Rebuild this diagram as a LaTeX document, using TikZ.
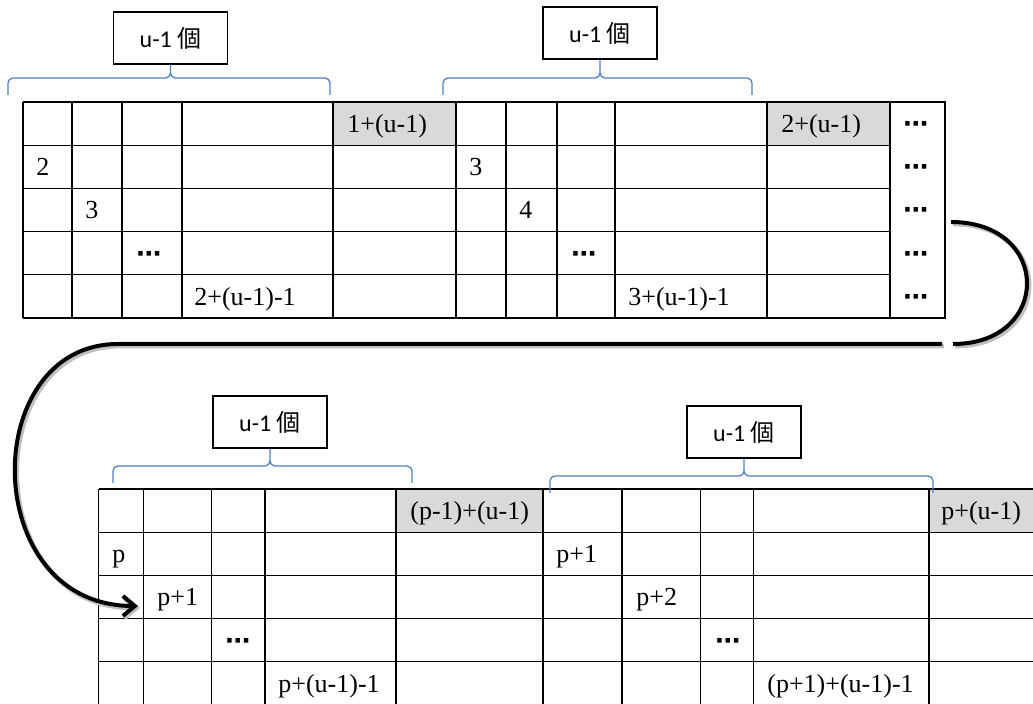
\documentclass[tikz,border=0pt]{standalone}
\usepackage{fontspec}
\setmainfont{Liberation Serif}
\newfontfamily\labelfont{Carlito}
\newfontfamily\cjkfont{Noto Sans CJK TC}
\newfontfamily\symfont{DejaVu Sans}
\usetikzlibrary{arrows.meta,positioning}
\definecolor{Brace}{HTML}{4F81BD}
\definecolor{Cell}{HTML}{D9D9D9}

\newcommand\countbrace[3]{%
  \draw[bracket] (#1) -- ++(0,-17) -| (#3.south) (#2) -- ++(0,-17) -| (#3.south);}

\begin{document}
\begin{tikzpicture}[x=0.5pt,y=-0.5pt,
  grid/.style={draw=black,line width=0.65pt},
  hilite/.style={fill=Cell},
  entry/.style={anchor=base west,inner sep=0pt,font=\fontsize{13}{15}\selectfont},
  more/.style={anchor=base west,inner sep=0pt,font=\symfont\bfseries\fontsize{12.5}{15}\selectfont},
  countbox/.style={draw=black,line width=0.65pt,fill=white,minimum width=57pt,
    minimum height=26pt,inner sep=0pt,font=\labelfont\fontsize{12}{14}\selectfont},
  bracket/.style={draw=Brace,line width=0.65pt,rounded corners=2.5pt},
  flow/.style={-{Straight Barb[length=6pt,width=10pt]},line width=2pt,
    preaction={draw=black!25,line width=2.4pt,transform canvas={shift={(1pt,-1pt)}}}}]
\useasboundingbox (0,0) rectangle (1033,704);
\clip (0,0) rectangle (1033,704);

% upper block
\fill[hilite] (333,102) rectangle (456,145.2);
\fill[hilite] (767,102) rectangle (890,145.2);
\foreach \y in {102,145.2,188.4,231.6,274.8,318}
  \draw[grid] (23,\y) -- (890,\y);
\foreach \x in {23,72,122,182,333,456,506,557,615,767,890}
  \draw[grid] (\x,102) -- (\x,318);
\draw[grid] (890,102) rectangle (945,318);

\node[entry] (sum1) at (347,132.6) {1+(u-1)};
\node[entry] (sum2) at (781,132.6) {2+(u-1)};
\node[entry] (a2) at (36,175.8) {2};
\node[entry] (a3) at (85,219) {3};
\node[more] (adots) at (136,262.2) {⋯};
\node[entry] (aend) at (194,305.4) {2+(u-1)-1};
\node[entry] (b3) at (469,175.8) {3};
\node[entry] (b4) at (519,219) {4};
\node[more] (bdots) at (571,262.2) {⋯};
\node[entry] (bend) at (628,305.4) {3+(u-1)-1};
\foreach \y [count=\i] in {132.6,175.8,219,262.2,305.4}
  \node[more] (right\i) at (903,\y) {⋯};

\node[countbox] (cnt1) at (170.5,38) {u-1 {\cjkfont 個}};
\node[countbox] (cnt2) at (600,33) {u-1 {\cjkfont 個}};
\coordinate (br1l) at (8,95);
\coordinate (br1r) at (330,95);
\coordinate (br2l) at (443,95);
\coordinate (br2r) at (752,95);
\countbrace{br1l}{br1r}{cnt1}
\countbrace{br2l}{br2r}{cnt2}

% lower block
\fill[hilite] (396,489) rectangle (543,532.2);
\fill[hilite] (929,489) rectangle (1040,532.2);
\foreach \y in {489,532.2,575.4,618.6,661.8,705}
  \draw[grid] (98.5,\y) -- (1040,\y);
\foreach \x in {98.5,143.5,211.5,265,396,543,622,700.5,753.5,929}
  \draw[grid] (\x,489) -- (\x,710);

\node[entry] (sum3) at (410,519.6) {(p-1)+(u-1)};
\node[entry] (sum4) at (941,519.6) {p+(u-1)};
\node[entry] (cp) at (112,562.8) {p};
\node[entry] (cp1) at (157,606) {p+1};
\node[more] (cdots) at (225,649.2) {⋯};
\node[entry] (cend) at (278,692.4) {p+(u-1)-1};
\node[entry] (dp1) at (556,562.8) {p+1};
\node[entry] (dp2) at (636,606) {p+2};
\node[more] (ddots) at (715,649.2) {⋯};
\node[entry] (dend) at (767,692.4) {(p+1)+(u-1)-1};

\node[countbox] (cnt3) at (270,422) {u-1 {\cjkfont 個}};
\node[countbox] (cnt4) at (744,432) {u-1 {\cjkfont 個}};
\coordinate (br3l) at (113,483);
\coordinate (br3r) at (412,483);
\coordinate (br4l) at (550,493);
\coordinate (br4r) at (933,493);
\countbrace{br3l}{br3r}{cnt3}
\countbrace{br4l}{br4r}{cnt4}

% wrap-around
\coordinate (go) at (951,222);
\coordinate (turn) at (953,344);
\coordinate (back) at (942,344);
\coordinate (wrap) at (118,344);
\coordinate (land) at (138,606);
\draw[flow] (go) .. controls (1052,222) and (1052,344) .. (turn)
  (back) -- (wrap) .. controls (-22,344) and (-22,606) .. (land);
\end{tikzpicture}
\end{document}
